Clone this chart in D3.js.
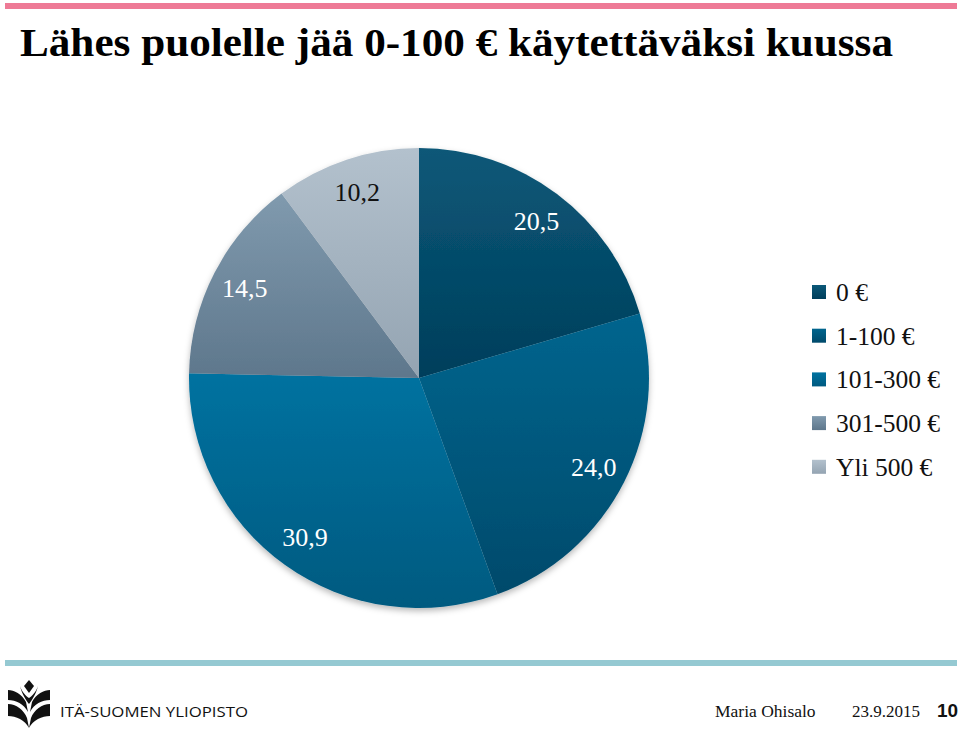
<!DOCTYPE html>
<html>
<head>
<meta charset="utf-8">
<script src="https://cdn.jsdelivr.net/npm/d3@7"></script>
<style>
  html, body { margin: 0; padding: 0; background: #fff; }
  svg { display: block; }
</style>
</head>
<body>
<svg id="chart" width="960" height="730"></svg>
<script>
// ---- data ----
const categories = ["0 €", "1-100 €", "101-300 €", "301-500 €", "Yli 500 €"];
const values = [20.5, 24.0, 30.9, 14.5, 10.2];
const valueLabels = ["20,5", "24,0", "30,9", "14,5", "10,2"];
const colorsTop = ["#0b5878", "#00658e", "#0072a0", "#809aae", "#b3c1cd"];
const colorsBottom = ["#003e5b", "#004a6b", "#005a80", "#5e778c", "#94a4b2"];
const labelColors = ["#ffffff", "#ffffff", "#ffffff", "#ffffff", "#111111"];

const svg = d3.select("#chart");
const defs = svg.append("defs");

// gradients
categories.forEach((c, i) => {
  const g = defs.append("linearGradient")
    .attr("id", "grad" + i)
    .attr("x1", 0).attr("y1", 0).attr("x2", 0).attr("y2", 1);
  g.append("stop").attr("offset", "0%").attr("stop-color", colorsTop[i]);
  g.append("stop").attr("offset", "100%").attr("stop-color", colorsBottom[i]);
});
const f = defs.append("filter").attr("id", "shadow")
  .attr("x", "-10%").attr("y", "-10%").attr("width", "120%").attr("height", "125%");
f.append("feDropShadow").attr("dx", 0).attr("dy", 3).attr("stdDeviation", 3)
  .attr("flood-color", "#000").attr("flood-opacity", 0.28);

// top pink bar and bottom teal bar
svg.append("rect").attr("x", 5).attr("y", 3).attr("width", 952).attr("height", 6).attr("fill", "#ee7a96");
svg.append("rect").attr("x", 5).attr("y", 660).attr("width", 952).attr("height", 6).attr("fill", "#95c9d2");

// title
svg.append("text")
  .attr("x", 20).attr("y", 56)
  .attr("font-family", "'Liberation Serif', 'Times New Roman', serif")
  .attr("font-weight", "bold")
  .attr("font-size", 41)
  .attr("textLength", 873)
  .attr("lengthAdjust", "spacingAndGlyphs")
  .attr("fill", "#000")
  .text("Lähes puolelle jää 0-100 € käytettäväksi kuussa");

// pie
const cx = 419, cy = 378, R = 230;
const pie = d3.pie().sort(null).value(d => d)
  .startAngle(0).endAngle(2 * Math.PI);
const arcs = pie(values);
const arc = d3.arc().innerRadius(0).outerRadius(R);
const labelArc = d3.arc().innerRadius(196).outerRadius(196);

const g = svg.append("g").attr("transform", `translate(${cx},${cy})`);
g.append("g").attr("filter", "url(#shadow)")
  .selectAll("path").data(arcs).join("path")
  .attr("d", arc)
  .attr("fill", (d, i) => `url(#grad${i})`);

g.selectAll("text.lbl").data(arcs).join("text")
  .attr("class", "lbl")
  .attr("transform", d => `translate(${labelArc.centroid(d)})`)
  .attr("dy", "0.35em")
  .attr("text-anchor", "middle")
  .attr("font-family", "'Liberation Serif', 'Times New Roman', serif")
  .attr("font-size", 26)
  .attr("fill", (d, i) => labelColors[i])
  .text((d, i) => valueLabels[i]);

// legend
const legend = svg.append("g").attr("transform", "translate(812,292)");
const rowH = 43.7;
const items = legend.selectAll("g").data(categories).join("g")
  .attr("transform", (d, i) => `translate(0,${i * rowH})`);
items.append("rect")
  .attr("x", 0).attr("y", -7).attr("width", 14).attr("height", 14)
  .attr("fill", (d, i) => `url(#grad${i})`);
items.append("text")
  .attr("x", 24).attr("y", 0).attr("dy", "0.35em")
  .attr("font-family", "'Liberation Serif', 'Times New Roman', serif")
  .attr("font-size", 25.5)
  .attr("fill", "#111")
  .text(d => d);

// footer logo (approximate)
const logo = svg.append("g").attr("fill", "#111");
logo.append("path").attr("d", "M29,680 L34,686 L29,693 L24,686 Z");
logo.append("path").attr("d", "M8,690 C14,690 22,694 26,702 L28,712 C24,704 16,700 8,700 Z");
logo.append("path").attr("d", "M50,690 C44,690 36,694 32,702 L30,712 C34,704 42,700 50,700 Z");
logo.append("path").attr("d", "M8,704 C16,704 24,710 27,718 L29,728 C25,720 16,716 8,716 Z");
logo.append("path").attr("d", "M50,704 C42,704 34,710 31,718 L29,728 C33,720 42,716 50,716 Z");
logo.append("path").attr("d", "M20,686 C22,692 26,696 29,698 C32,696 36,692 38,686 C36,694 32,700 29,704 C26,700 22,694 20,686 Z");

svg.append("text")
  .attr("x", 60).attr("y", 717)
  .attr("font-family", "'Open Sans', 'DejaVu Sans', sans-serif")
  .attr("font-size", 14.5)
  .attr("textLength", 188)
  .attr("lengthAdjust", "spacingAndGlyphs")
  .attr("fill", "#111")
  .text("ITÄ-SUOMEN YLIOPISTO");

svg.append("text")
  .attr("x", 715).attr("y", 717)
  .attr("font-family", "'Liberation Serif', serif")
  .attr("font-size", 17.5)
  .attr("fill", "#111")
  .text("Maria Ohisalo");
svg.append("text")
  .attr("x", 852).attr("y", 717)
  .attr("font-family", "'Liberation Serif', serif")
  .attr("font-size", 17)
  .attr("fill", "#111")
  .text("23.9.2015");
svg.append("text")
  .attr("x", 937).attr("y", 717)
  .attr("font-family", "'Liberation Sans', Arial, sans-serif")
  .attr("font-weight", "bold")
  .attr("font-size", 19)
  .attr("fill", "#111")
  .text("10");
</script>
</body>
</html>
